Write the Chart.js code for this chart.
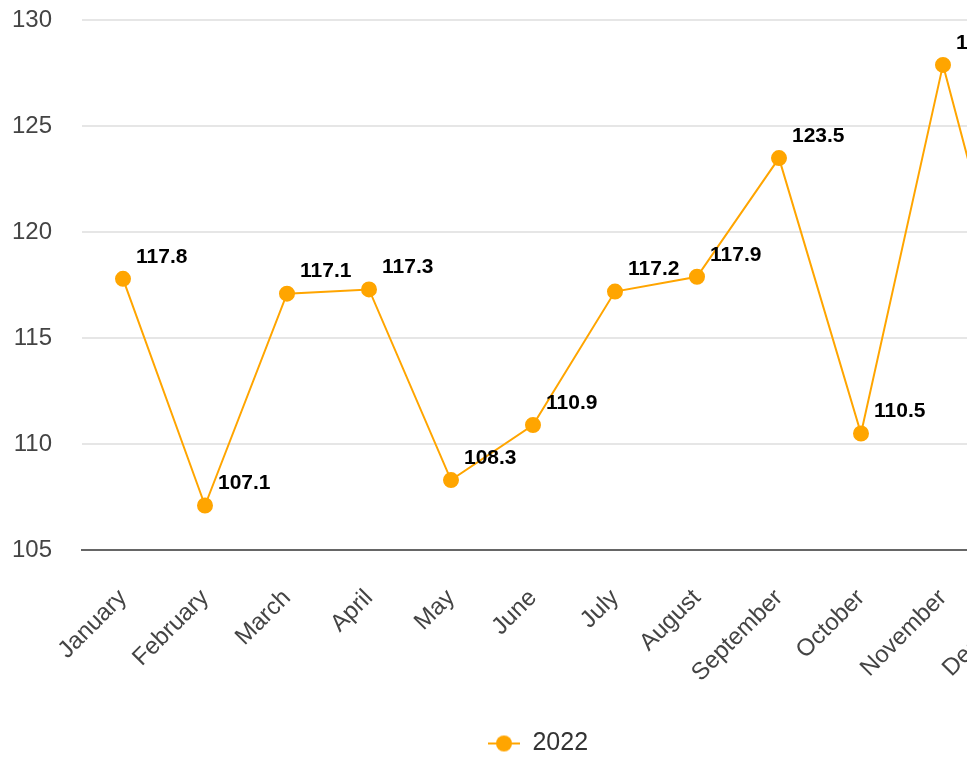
<!DOCTYPE html>
<html>
<head>
<meta charset="utf-8">
<script src="https://cdn.jsdelivr.net/npm/chart.js@4/dist/chart.umd.min.js"></script>
<style>
  body { margin: 0; overflow: hidden; background: #fff; }
  #wrap { width: 1076px; height: 766px; }
</style>
</head>
<body>
<div id="wrap"><canvas id="chart" width="1076" height="766"></canvas></div>
<script>
const months = ['January', 'February', 'March', 'April', 'May', 'June', 'July', 'August', 'September', 'October', 'November', 'December'];
const values2022 = [117.8, 107.1, 117.1, 117.3, 108.3, 110.9, 117.2, 117.9, 123.5, 110.5, 127.9, 113.3];
const seriesName = '2022';
const yMin = 105;
const yMax = 130;
const yStep = 5;

const orange = '#ffa500';
const fontFamily = '"Liberation Sans", Arial, sans-serif';

// legend marker: a short line with a dot on it
function legendMarker() {
    const c = document.createElement('canvas');
    c.width = 34;
    c.height = 18;
    const g = c.getContext('2d');
    g.strokeStyle = orange;
    g.lineWidth = 2;
    g.beginPath();
    g.moveTo(1, 9);
    g.lineTo(33, 9);
    g.stroke();
    g.fillStyle = orange;
    g.beginPath();
    g.arc(17, 9, 8, 0, Math.PI * 2);
    g.fill();
    return c;
}

const valueLabels = {
    id: 'valueLabels',
    afterDatasetsDraw(chart) {
        const ctx = chart.ctx;
        const meta = chart.getDatasetMeta(0);
        ctx.save();
        ctx.font = 'bold 21px ' + fontFamily;
        ctx.fillStyle = '#000';
        ctx.textAlign = 'left';
        ctx.textBaseline = 'middle';
        meta.data.forEach((pt, i) => {
            ctx.fillText(values2022[i].toFixed(1), pt.x + 13, pt.y - 22);
        });
        ctx.restore();
    }
};

const marker = legendMarker();

new Chart(document.getElementById('chart'), {
    type: 'line',
    data: {
        labels: months,
        datasets: [{
            label: seriesName,
            data: values2022,
            borderColor: orange,
            backgroundColor: orange,
            borderWidth: 2,
            pointRadius: 7,
            pointHoverRadius: 7,
            pointBorderWidth: 2,
            pointBackgroundColor: orange,
            pointBorderColor: orange,
            tension: 0
        }]
    },
    options: {
        responsive: false,
        animation: false,
        layout: { padding: { top: 0, right: 10, left: 10, bottom: 0 } },
        plugins: {
            tooltip: { enabled: false },
            legend: {
                position: 'bottom',
                labels: {
                    usePointStyle: true,
                    pointStyleWidth: 32,
                    padding: 1,
                    color: '#333',
                    font: { size: 25, family: fontFamily },
                    generateLabels: (chart) => [{
                        text: seriesName,
                        pointStyle: marker,
                        fillStyle: orange,
                        strokeStyle: orange,
                        lineWidth: 0,
                        fontColor: '#333',
                        datasetIndex: 0
                    }]
                }
            }
        },
        scales: {
            x: {
                offset: true,
                afterFit: (scale) => { scale.height = 180; },
                grid: { display: false },
                border: { display: true, color: '#666', width: 2 },
                ticks: {
                    color: '#444',
                    font: { size: 24, family: fontFamily },
                    minRotation: 45,
                    maxRotation: 45,
                    autoSkip: false,
                    padding: 26
                }
            },
            y: {
                min: yMin,
                max: yMax,
                afterFit: (scale) => { scale.width = 72; },
                border: { display: false },
                grid: { color: '#e6e6e6', lineWidth: 2, tickLength: 24, tickColor: 'rgba(0,0,0,0)' },
                ticks: {
                    stepSize: yStep,
                    color: '#444',
                    padding: 6,
                    font: { size: 24, family: fontFamily }
                }
            }
        }
    },
    plugins: [valueLabels]
});
</script>
</body>
</html>
